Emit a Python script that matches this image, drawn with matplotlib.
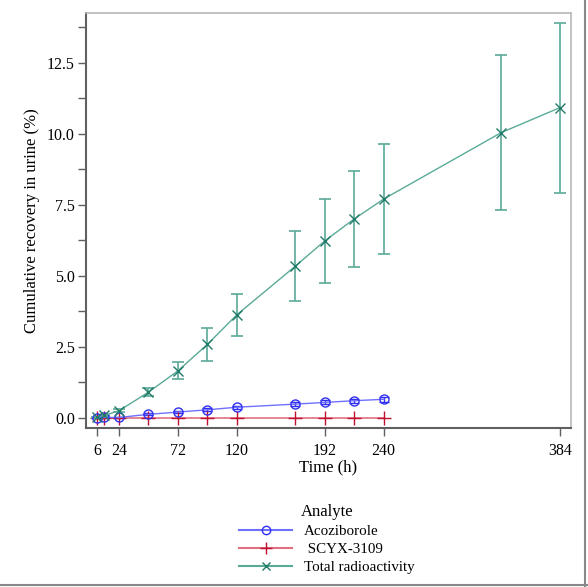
import matplotlib
matplotlib.use("Agg")
import matplotlib.pyplot as plt
from matplotlib.lines import Line2D

plt.rcParams['font.family'] = ['Liberation Serif', 'DejaVu Serif']

# Data
time_total = [6, 12, 24, 48, 72, 96, 120, 168, 192, 216, 240, 336, 384]
total_mean = [0.02, 0.08, 0.25, 0.90, 1.65, 2.58, 3.62, 5.34, 6.23, 7.00, 7.70, 10.04, 10.92]
total_low = [0.0, 0.05, 0.20, 0.75, 1.37, 2.01, 2.87, 4.11, 4.75, 5.31, 5.77, 7.31, 7.90]
total_high = [0.04, 0.11, 0.30, 1.05, 1.95, 3.15, 4.36, 6.58, 7.69, 8.69, 9.64, 12.76, 13.91]

time_acz = [6, 12, 24, 48, 72, 96, 120, 168, 192, 216, 240]
acz_mean = [0.0, 0.01, 0.01, 0.12, 0.20, 0.28, 0.37, 0.48, 0.54, 0.60, 0.65]
acz_low = [0.0, 0.0, 0.0, 0.09, 0.16, 0.23, 0.32, 0.41, 0.47, 0.53, 0.57]
acz_high = [0.01, 0.02, 0.02, 0.15, 0.24, 0.33, 0.42, 0.55, 0.61, 0.67, 0.73]

time_scyx = [6, 12, 24, 48, 72, 96, 120, 168, 192, 216, 240]
scyx_mean = [0.0, 0.0, 0.0, 0.0, 0.0, 0.0, 0.0, 0.0, 0.0, 0.0, 0.0]

xticks = [6, 24, 72, 120, 192, 240, 384]
yticks = [0.0, 2.5, 5.0, 7.5, 10.0, 12.5]
yticklabels = ["0.0", "2.5", "5.0", "7.5", "10.0", "12.5"]

c_acz_line, c_acz_mk = "#7070ff", "#3030f0"
c_scyx_line, c_scyx_mk = "#e07080", "#c01030"
c_tot_line, c_tot_mk = "#5aaa98", "#207a68"

fig = plt.figure(figsize=(5.88, 5.87), dpi=100)
ax = fig.add_axes([0.1463, 0.2714, 0.8248, 0.7059])

def errs(m, lo, hi):
    return [[a - b for a, b in zip(m, lo)], [c - a for a, c in zip(m, hi)]]

# Acoziborole
ax.errorbar(time_acz, acz_mean, yerr=errs(acz_mean, acz_low, acz_high), fmt='none',
            ecolor=c_acz_mk, elinewidth=1, capsize=3.8, capthick=1, zorder=3)
ax.plot(time_acz, acz_mean, color=c_acz_line, lw=1, marker='o', ms=6.5,
        mfc='none', mec=c_acz_mk, mew=1, zorder=4)
# SCYX-3109
ax.plot(time_scyx, scyx_mean, color=c_scyx_line, lw=1.2, marker='+', ms=10,
        mec=c_scyx_mk, mew=1, zorder=3)
# Total radioactivity
ax.errorbar(time_total, total_mean, yerr=errs(total_mean, total_low, total_high), fmt='none',
            ecolor=c_tot_line, elinewidth=1.2, capsize=4.5, capthick=1.2, zorder=3)
ax.plot(time_total, total_mean, color=c_tot_line, lw=1, marker='x', ms=7,
        mec=c_tot_mk, mew=1, zorder=4)

ax.set_xlim(-3, 393)
ax.set_ylim(-0.35, 14.24)
ax.set_xticks(xticks)
ax.set_xticklabels([str(t) for t in xticks])
ax.set_yticks(yticks)
ax.set_yticklabels(yticklabels)
ax.set_yticks([1.25, 3.75, 6.25, 8.75, 11.25, 13.75], minor=True)
ax.tick_params(axis='both', which='both', direction='out', length=6, width=1,
               color='#606060', labelsize=11.5, pad=2)
ax.tick_params(axis='x', pad=5)

for s in ['left', 'bottom']:
    ax.spines[s].set_color('#606060')
    ax.spines[s].set_linewidth(1.5)
for s in ['top', 'right']:
    ax.spines[s].set_color('#b8b8b8')
    ax.spines[s].set_linewidth(1.2)

ax.set_xlabel("Time (h)", fontsize=12, labelpad=0)
ax.set_ylabel("Cumulative recovery in urine (%)", fontsize=12, labelpad=5)

handles = [
    Line2D([], [], color=c_acz_line, marker='o', mfc='none', mec=c_acz_mk, ms=6),
    Line2D([], [], color=c_scyx_line, marker='+', mec=c_scyx_mk, ms=9),
    Line2D([], [], color=c_tot_line, marker='x', mec=c_tot_mk, ms=6),
]
labels = ["Acoziborole", " SCYX-3109", "Total radioactivity"]
leg = fig.legend(handles, labels, title="Analyte", loc='center', bbox_to_anchor=(0.556, 0.082),
                 frameon=False, fontsize=10.8, title_fontsize=12, handlelength=3.5,
                 labelspacing=0.3, borderpad=0.2, handletextpad=0.8)

# figure border (right and bottom only)
fig.add_artist(Line2D([0.9955, 0.9955], [0.0, 1.0], transform=fig.transFigure,
                      color='#888888', lw=1.5))
fig.add_artist(Line2D([0.0, 1.0], [0.0035, 0.0035], transform=fig.transFigure,
                      color='#888888', lw=1.5))

fig.savefig("out.png", dpi=100)
